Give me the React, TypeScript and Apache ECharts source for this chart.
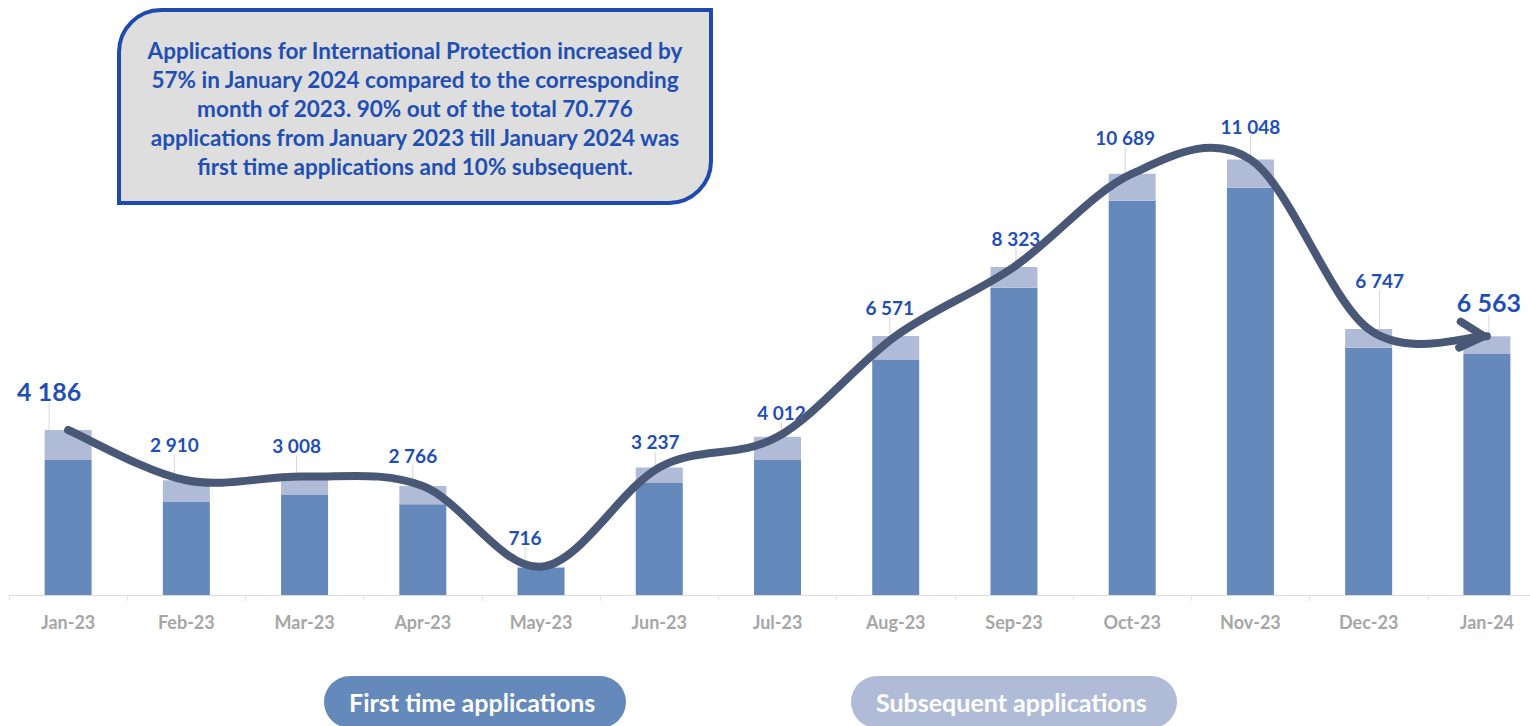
import React, { useEffect, useRef } from "react";
import * as echarts from "echarts";

const months = ["Jan-23", "Feb-23", "Mar-23", "Apr-23", "May-23", "Jun-23", "Jul-23", "Aug-23", "Sep-23", "Oct-23", "Nov-23", "Dec-23", "Jan-24"];
const firstTime = [3425, 2360, 2537, 2301, 690, 2841, 3425, 5962, 7796, 10003, 10333, 6274, 6114];
const subsequent = [761, 550, 471, 465, 26, 396, 587, 609, 527, 686, 715, 473, 449];
const totals = [4186, 2910, 3008, 2766, 716, 3237, 4012, 6571, 8323, 10689, 11048, 6747, 6563];

const boxText = [
  "Applications for International Protection increased by",
  "57% in January 2024 compared to the corresponding",
  "month of 2023. 90% out of the total 70.776",
  "applications from January 2023 till January 2024 was",
  "first time applications and 10% subsequent.",
];

// label placement (styling only)
const labelDx = [-19, -12, -8, -10, -16, -4, 4, -6, 2, -7, 0, 11, 2];
const labelDy = [-22, -21, -16, -16, -15, -11, -10, -14, -14, -22, -19, -34, -17];

const FONT = "Lato, 'Open Sans', sans-serif";
const DARK = "#6489BA";
const LIGHT = "#B0BCD7";
const CURVE = "#4A5878";
const BLUE = "#1F4FB5";

const fmt = (v: number) => String(v).replace(/\B(?=(\d{3})+(?!\d))/g, " ");

// Catmull-Rom style smooth curve through pixel points, with a chevron arrowhead at the end
function renderTrend(params: any, api: any) {
  if (params.dataIndex !== 0) return null;
  const pts = totals.map((v, i) => api.coord([i, v]) as number[]);
  const n = pts.length;
  const k = 1 / 6;
  let d = `M${pts[0][0]},${pts[0][1]}`;
  let lastCp2 = pts[0];
  for (let i = 0; i < n - 1; i++) {
    const p0 = pts[Math.max(i - 1, 0)];
    const p1 = pts[i];
    const p2 = pts[i + 1];
    const p3 = pts[Math.min(i + 2, n - 1)];
    const c1 = [p1[0] + (p2[0] - p0[0]) * k, p1[1] + (p2[1] - p0[1]) * k];
    const c2 = [p2[0] - (p3[0] - p1[0]) * k, p2[1] - (p3[1] - p1[1]) * k];
    d += ` C${c1[0]},${c1[1]} ${c2[0]},${c2[1]} ${p2[0]},${p2[1]}`;
    lastCp2 = c2;
  }
  const tip = pts[n - 1];
  let dx = tip[0] - lastCp2[0];
  let dy = tip[1] - lastCp2[1];
  const len = Math.sqrt(dx * dx + dy * dy) || 1;
  dx /= len;
  dy /= len;
  const back = 24;
  const half = 13;
  const tipX = tip[0] - 3 * dx;
  const tipY = tip[1] - 3 * dy;
  const a1 = [tipX - back * dx - half * dy, tipY - back * dy + half * dx];
  const a2 = [tipX - back * dx + half * dy, tipY - back * dy - half * dx];
  return {
    type: "group",
    children: [
      {
        type: "path",
        shape: { pathData: d },
        style: { fill: "none", stroke: CURVE, lineWidth: 8, lineCap: "round", lineJoin: "round" },
      },
      {
        type: "polyline",
        shape: { points: [a1, [tipX, tipY], a2] },
        style: { fill: "none", stroke: CURVE, lineWidth: 8, lineCap: "round", lineJoin: "round" },
      },
    ],
  };
}

export default function App() {
  const ref = useRef<HTMLDivElement>(null);
  useEffect(() => {
    if (!ref.current) return;
    const chart = echarts.init(ref.current, undefined, { renderer: "svg" });
    const last = months.length - 1;
    chart.setOption({
      animation: false,
      backgroundColor: "#ffffff",
      grid: { left: 9, top: 122, width: 1537, height: 473, containLabel: false },
      xAxis: {
        type: "category",
        data: months,
        boundaryGap: true,
        axisLine: { lineStyle: { color: "#DCDCDC", width: 1 } },
        axisTick: { show: true, length: 6, lineStyle: { color: "#E3E3E3" } },
        axisLabel: { color: "#A6A6A6", fontFamily: FONT, fontWeight: "bold", fontSize: 18, margin: 18 },
      },
      yAxis: {
        type: "value",
        min: 0,
        max: 12000,
        show: false,
        splitLine: { show: false },
      },
      legend: {
        left: 314,
        top: 671,
        itemGap: 220,
        itemWidth: 0,
        itemHeight: 0,
        icon: "rect",
        selectedMode: false,
        textStyle: {
          color: "#ffffff",
          fontFamily: FONT,
          fontWeight: "bold",
          fontSize: 25,
          lineHeight: 26,
          align: "center",
          padding: [13, 25],
          borderRadius: 26,
        },
        data: [
          { name: "First time applications", textStyle: { backgroundColor: DARK, width: 252 } },
          { name: "Subsequent applications", textStyle: { backgroundColor: LIGHT, width: 276 } },
        ],
      },
      series: [
        {
          name: "First time applications",
          type: "bar",
          stack: "total",
          barWidth: 47,
          data: firstTime,
          itemStyle: { color: DARK },
          emphasis: { disabled: true },
        },
        {
          name: "Subsequent applications",
          type: "bar",
          stack: "total",
          barWidth: 47,
          data: subsequent.map((v, i) =>
            i === 0 || i === last ? { value: v, label: { fontSize: 25 } } : v
          ),
          itemStyle: { color: LIGHT },
          emphasis: { disabled: true },
          label: {
            show: true,
            position: "top",
            distance: 5,
            color: BLUE,
            fontFamily: FONT,
            fontWeight: "bold",
            fontSize: 19,
            formatter: (p: any) => fmt(totals[p.dataIndex]),
          },
          labelLine: { show: true, lineStyle: { color: "#D6D6D6", width: 1 } },
          labelLayout: (p: any) => ({ dx: labelDx[p.dataIndex], dy: labelDy[p.dataIndex] }),
        },
        {
          name: "trend",
          type: "custom",
          data: totals.map((v, i) => [i, v]),
          encode: { x: 0, y: 1 },
          renderItem: renderTrend,
          silent: true,
          clip: false,
          z: 5,
        },
      ],
      graphic: [
        {
          type: "group",
          left: 117,
          top: 8,
          children: [
            {
              type: "rect",
              shape: { x: 0, y: 0, width: 592, height: 193, r: [42, 0, 42, 0] },
              style: { fill: "#DEDEDE", stroke: "#1F4AAD", lineWidth: 4 },
            },
            {
              type: "text",
              x: 296,
              y: 98,
              style: {
                text: boxText.join("\n"),
                align: "center",
                verticalAlign: "middle",
                font: `bold 22.5px ${FONT}`,
                fill: BLUE,
                lineHeight: 29,
              },
            },
          ],
        },
      ],
    });
    return () => chart.dispose();
  }, []);
  return (
    <div style={{ position: "fixed", left: 0, top: 0, width: 1530, height: 726, overflow: "hidden" }}>
      <div ref={ref} style={{ width: 1560, height: 726 }} />
    </div>
  );
}
